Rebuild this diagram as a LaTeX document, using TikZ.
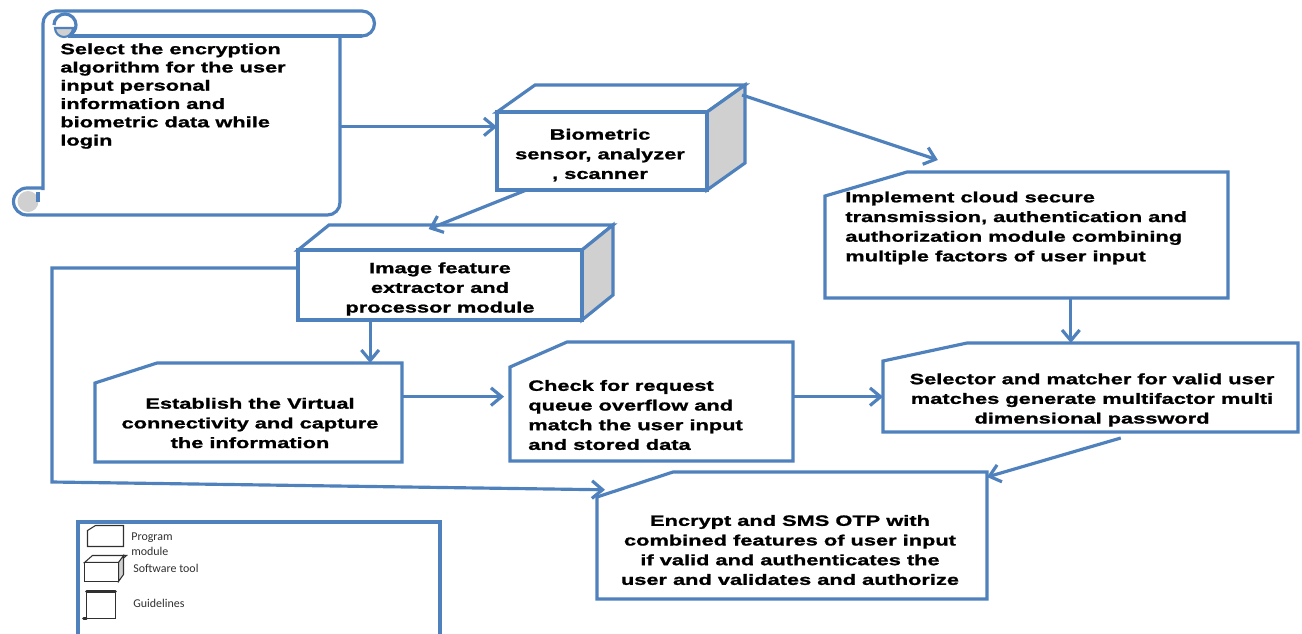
\documentclass[tikz,border=0pt]{standalone}
\usepackage{fontspec}
\usetikzlibrary{arrows.meta,calc,fit}
\newfontfamily\boxfont[FakeStretch=1.46,FakeBold=1.2]{Liberation Sans Bold}
\newfontfamily\legendfont{Carlito}
\definecolor{flowblue}{HTML}{4F81BD}
\definecolor{sidegray}{HTML}{D0D0D0}
\definecolor{legendink}{HTML}{303030}
% program module: rectangle with the top-left corner cut off
\newcommand\pmshape[3]{%
  \draw[outline] (#1.south west) -- ($(#1.north west)+(0,#3)$)
    -- ($(#1.north west)+(#2,0)$) -- (#1.north east) -- (#1.south east) -- cycle;}
% software tool: box seen from the front, top and right side
\newcommand\toolshape[4]{%
  \draw[outline] ($(#1.north west)$) -- ($(#1.north west)+(#2,-#3)$)
    -- ($(#1.north east)+(#2,-#3)$) -- (#1.north east) -- cycle;
  \draw[sidebox] (#1.north east) -- ($(#1.north east)+(#2,-#3)$)
    -- ($(#1.north east)+(#2,-#3)+(0,#4)$) -- (#1.south east) -- cycle;
  \draw[outline] (#1.north west) rectangle (#1.south east);}
\begin{document}
\begin{tikzpicture}[x=0.02cm,y=-0.02cm,
  region/.style={inner sep=0pt,outer sep=0pt,draw=none},
  outline/.style={draw=flowblue,line width=1.8pt,line join=miter,fill=white},
  sidebox/.style={draw=flowblue,line width=1.8pt,line join=miter,fill=sidegray},
  link/.style={draw=flowblue,line width=1.8pt},
  arr/.style={link,-{Straight Barb[length=6pt,width=10pt]}},
  txt/.style={font=\boxfont\fontsize{8.5}{11.2}\selectfont,inner sep=0pt,align=center},
  txtl/.style={txt,align=left,anchor=west},
  legtxt/.style={font=\legendfont\fontsize{6.8}{8.5}\selectfont,inner sep=0pt,align=left,anchor=west,text=legendink},
  icon/.style={draw=legendink,line width=0.6pt,fill=white}]
\clip (0,0) rectangle (1302,633);
\fill[white] (0,0) rectangle (1302,633);

% ---------- guidelines scroll ----------
\node[region, fit={(43,36) (340,215)}] (guide) {};
\draw[outline] (43,190) -- (43,23.5) arc[start angle=180,end angle=270,radius=12.5]
  -- (362,11) arc[start angle=-90,end angle=90,radius=12.5] -- (340,36)
  -- (340,202.5) arc[start angle=0,end angle=90,radius=12.5] -- (27,215)
  arc[start angle=90,end angle=270,radius=13.5] -- (43,188);
\draw[link] (362,36) -- (68,36);
% top curl
\filldraw[sidebox,line width=1.2pt] (55,28) arc[start angle=180,end angle=0,radius=9] -- cycle;
\draw[link] (54,25) arc[start angle=180,end angle=420,radius=11];
% bottom roll
\fill[sidegray] (28,201.5) circle (10.5);
\draw[link] (38,192) -- (38,202);
\node[txtl, font=\boxfont\fontsize{8.5}{10.4}\selectfont] (guidetxt) at (60,96)
  {Select the encryption\\algorithm for the user\\input personal\\information and\\biometric data while\\login};

% ---------- biometric sensor (software tool) ----------
\node[region, fit={(497,112) (707,190)}] (biof) {};
\toolshape{biof}{38}{27}{78}
\node[txt] (biotxt) at (600,155) {Biometric\\sensor, analyzer\\, scanner};

% ---------- image feature extractor (software tool) ----------
\node[region, fit={(298,250) (582,320)}] (imgf) {};
\toolshape{imgf}{31}{25}{70}
\node[txt] (imgtxt) at (440,289) {Image feature\\extractor and\\processor module};

% ---------- program modules ----------
\node[region, fit={(95,363) (402,462)}] (est) {};
\pmshape{est}{62}{20}
\node[txt] (esttxt) at (250,423) {Establish the Virtual\\connectivity and capture\\the information};

\node[region, fit={(510,342) (793,461)}] (chk) {};
\pmshape{chk}{57}{25}
\node[txtl] (chktxt) at (528,415) {Check for request\\queue overflow and\\match the user input\\and stored data};

\node[region, fit={(825,172) (1228,298)}] (cloud) {};
\pmshape{cloud}{82}{24}
\node[txtl] (cloudtxt) at (845,228) {Implement cloud secure\\transmission, authentication and\\authorization module combining\\multiple factors of user input};

\node[region, fit={(883,343) (1298,432)}] (sel) {};
\pmshape{sel}{84}{18}
\node[txt] (seltxt) at (1092,400) {Selector and matcher for valid user\\matches generate multifactor multi\\dimensional password};

\node[region, fit={(597,472) (987,599)}] (enc) {};
\pmshape{enc}{76}{25}
\node[txt] (enctxt) at (790,550) {Encrypt and SMS OTP with\\combined features of user input\\if valid and authenticates the\\user and validates and authorize};

% ---------- connectors ----------
\coordinate (bioIn) at ($(biof.north west)!0.19!(biof.south west)$);
\draw[arr] (guide.east |- bioIn) -- (bioIn);

\coordinate (bioBack) at ($(biof.north east)+(35,-17)$);
\coordinate (cloudIn) at ($(cloud.north west)!0.28!(cloud.north east)+(0,-12)$);
\draw[arr] (bioBack) -- (cloudIn);

\coordinate (bioOut) at ($(biof.south west)!0.14!(biof.south east)$);
\coordinate (imgIn) at ($(imgf.north west)!0.46!(imgf.north east)+(0,-21)$);
\draw[arr] (bioOut) -- (imgIn);

\coordinate (imgOut) at ($(imgf.south west)!0.254!(imgf.south east)$);
\draw[arr] (imgOut) -- (imgOut |- est.north);

\coordinate (estOut) at ($(est.north east)!0.34!(est.south east)$);
\draw[arr] (estOut) -- ($(chk.west |- estOut)+(-6,0)$);

\coordinate (chkOut) at ($(chk.north east)!0.46!(chk.south east)$);
\draw[arr] (chkOut) -- (sel.west |- chkOut);

\coordinate (cloudOut) at ($(cloud.south west)!0.61!(cloud.south east)$);
\draw[arr] (cloudOut) -- (cloudOut |- sel.north);

\coordinate (selOut) at ($(sel.south west)!0.573!(sel.south east)+(0,6)$);
\draw[arr] (selOut) -- ($(enc.north east)+(0,5)$);

\coordinate (imgLeft) at ($(imgf.north west)!0.257!(imgf.south west)$);
\coordinate (loopTop) at (52,268);
\coordinate (loopBot) at (52,482);
\coordinate (encIn) at ($(enc.north west)!0.14!(enc.south west)+(8,0)$);
\draw[arr] (imgLeft) -- (loopTop) -- (loopBot) -- (encIn);

% ---------- legend ----------
\node[region, fit={(78,522) (440,660)}] (legend) {};
\draw[outline] (legend.north west) rectangle (legend.south east);
\node[region, fit={(87.5,525.5) (123.5,546.5)}] (legpm) {};
\draw[icon] (legpm.south west) -- ($(legpm.north west)+(0,5)$) -- ($(legpm.north west)+(8,0)$)
  -- (legpm.north east) -- (legpm.south east) -- cycle;
\node[legtxt] (legpmtxt) at (131,544) {Program\\module};
\node[region, fit={(84.5,562.5) (118.5,581.5)}] (legst) {};
\draw[icon] (legst.north west) -- ++(8,-7) -- ++(34,0) -- (legst.north east) -- cycle;
\draw[icon,fill=sidegray] (legst.north east) -- ++(5,-7) -- ++(0,19) -- (legst.south east) -- cycle;
\draw[icon] (legst.north west) rectangle (legst.south east);
\node[legtxt] (legsttxt) at (133,568) {Software tool};
\node[region, fit={(86.5,591.5) (115.5,618.5)}] (legsc) {};
\draw[icon] (legsc.north west) rectangle (legsc.south east);
\draw[legendink,line width=1.6pt,line cap=round] (legsc.north west) -- (legsc.north east);
\draw[legendink,line width=1.6pt,line cap=round] (legsc.south west) -- ++(-3,0);
\node[legtxt] (legsctxt) at (133,603) {Guidelines};
\end{tikzpicture}
\end{document}
